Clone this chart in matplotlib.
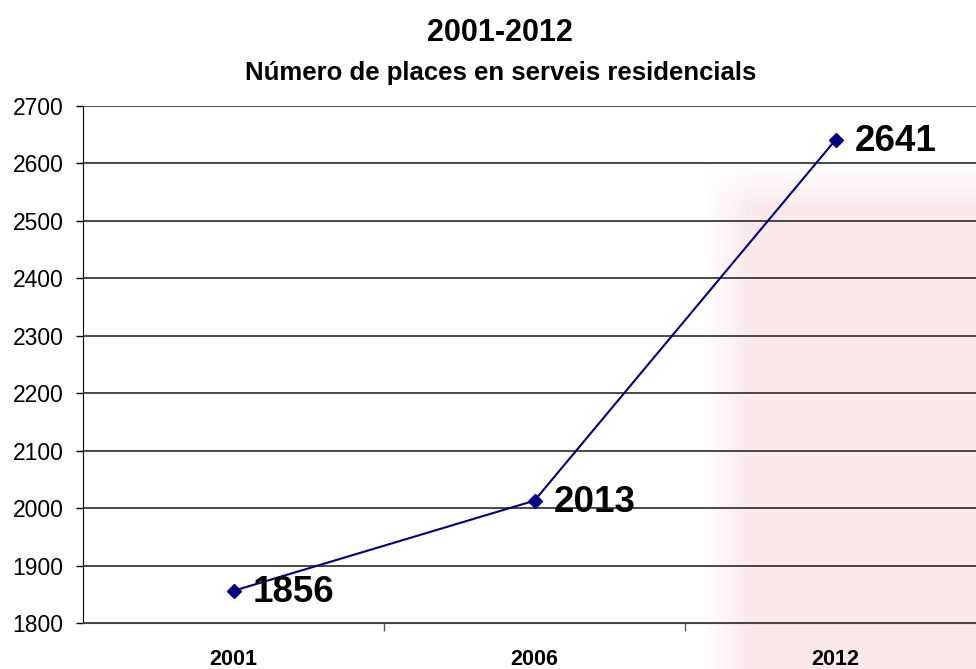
import matplotlib
matplotlib.use("Agg")
import matplotlib.pyplot as plt
import numpy as np

years = ["2001", "2006", "2012"]
places = [1856, 2013, 2641]
y_ticks = list(range(1800, 2701, 100))
title = "2001-2012"
subtitle = "Número de places en serveis residencials"

plt.rcParams['font.family'] = ['Liberation Sans', 'DejaVu Sans']

W, H = 976, 669
fig = plt.figure(figsize=(W / 100, H / 100), dpi=100)
fig.patch.set_facecolor('white')

# faint background watermark (soft pink area on the right)
bg = fig.add_axes([0, 0, 1, 1], zorder=-5)
bg.set_axis_off()
yy, xx = np.mgrid[0:H, 0:W]
mask = np.clip((xx - 705) / 45.0, 0, 1) * np.clip((yy - 165) / 45.0, 0, 1)
img = np.ones((H, W, 3))
pink = np.array([0.96, 0.80, 0.83])
a = 0.45
img = img * (1 - mask[..., None] * a) + pink * mask[..., None] * a
bg.imshow(img, extent=[0, 1, 0, 1], aspect='auto', origin='upper')
bg.set_xlim(0, 1)
bg.set_ylim(0, 1)

left, right, top, bottom = 83, 986, 106, 623
ax = fig.add_axes([left / W, 1 - bottom / H, (right - left) / W, (bottom - top) / H])
ax.patch.set_alpha(0)

x = np.arange(len(years))
ax.plot(x, places, color='#000080', lw=1.5, marker='D', markersize=7,
        markerfacecolor='#000080', markeredgecolor='#000080', zorder=3)
for xi, v in zip(x, places):
    ax.annotate(str(v), (xi, v), xytext=(14, -1), textcoords='offset points',
                ha='left', va='center', fontsize=26.5, fontweight='bold', color='black', zorder=4)

ax.set_xlim(-0.5, len(years) - 0.5)
ax.set_ylim(1800, 2700)
ax.set_yticks(y_ticks)
ax.set_yticklabels([str(t) for t in y_ticks], fontsize=16.5)
ax.yaxis.grid(True, color='#2a2a2a', lw=1.2)
ax.set_axisbelow(True)

ax.set_xticks(x)
ax.set_xticklabels(years, fontsize=15.5, fontweight='bold')
ax.tick_params(axis='x', which='major', length=0, pad=19)
ax.set_xticks(np.arange(0.5, len(years) - 0.5, 1), minor=True)
ax.tick_params(axis='x', which='minor', length=6, width=1, color='#555555', direction='out')
ax.tick_params(axis='y', length=5, width=1, pad=9, color='black')

for s in ['top', 'right']:
    ax.spines[s].set_visible(False)
ax.spines['bottom'].set_color('#444444')
ax.spines['left'].set_color('black')

fig.text(500 / W, 1 - 33 / H, title, ha='center', va='center', fontsize=22, fontweight='bold')
fig.text(501 / W, 1 - 73 / H, subtitle, ha='center', va='center', fontsize=18.5, fontweight='bold')

fig.savefig('out.png', dpi=100)
